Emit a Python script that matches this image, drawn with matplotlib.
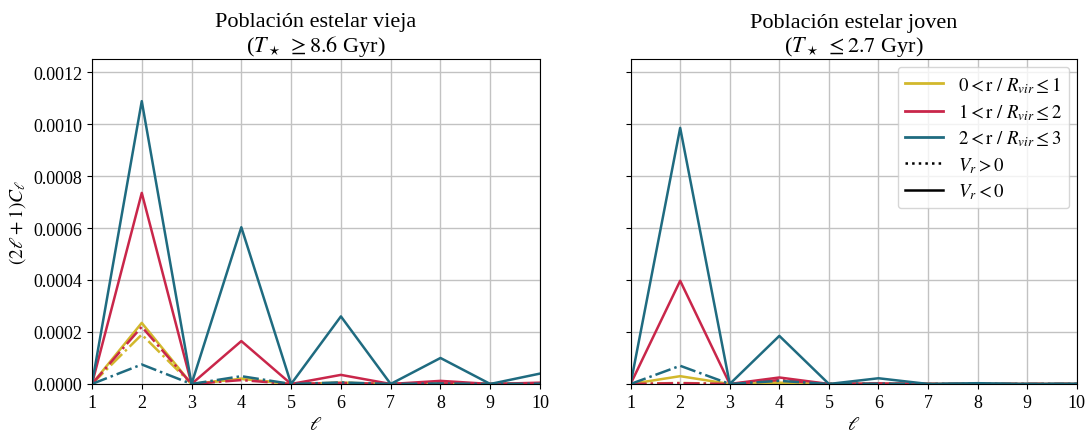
import matplotlib
import numpy as np

matplotlib.use("Agg")
import matplotlib.pyplot as plt  # noqa: E402

ell = np.arange(1, 11)

# old population (left panel)
old_in_neg = [0, 2.35e-4, 0, 2.0e-5, 0, 5e-6, 0, 2e-6, 0, 1e-6]
old_mid_neg = [0, 7.35e-4, 0, 1.65e-4, 0, 3.5e-5, 0, 1.2e-5, 0, 5e-6]
old_out_neg = [0, 1.088e-3, 0, 6.03e-4, 0, 2.6e-4, 0, 1.0e-4, 0, 4.0e-5]
old_in_pos = [0, 1.9e-4, 0, 2.0e-5, 0, 4e-6, 0, 2e-6, 0, 1e-6]
old_mid_pos = [0, 2.2e-4, 0, 1.5e-5, 0, 4e-6, 0, 2e-6, 0, 1e-6]
old_out_pos = [0, 7.5e-5, 0, 3.0e-5, 0, 6e-6, 0, 2e-6, 0, 1e-6]

# young population (right panel)
young_in_neg = [0, 3.0e-5, 0, 5e-6, 0, 1e-6, 0, 0, 0, 0]
young_mid_neg = [0, 3.97e-4, 0, 2.5e-5, 0, 2e-6, 0, 0, 0, 0]
young_out_neg = [0, 9.85e-4, 0, 1.85e-4, 0, 2.2e-5, 0, 3e-6, 0, 1e-6]
young_in_pos = [0, 4e-6, 0, 8e-6, 0, 1e-6, 0, 0, 0, 0]
young_mid_pos = [0, 3e-6, 0, 1.5e-5, 0, 1e-6, 0, 0, 0, 0]
young_out_pos = [0, 7.0e-5, 0, 1.2e-5, 0, 1e-6, 0, 0, 0, 0]

colors = ["#d2b82c", "#c9264a", "#1f6b80"]
bin_labels = [
    r"$0 < \mathrm{r}\ /\ R_{vir} \leq 1$",
    r"$1 < \mathrm{r}\ /\ R_{vir} \leq 2$",
    r"$2 < \mathrm{r}\ /\ R_{vir} \leq 3$",
]
titles = [
    "Población estelar vieja\n" + r"($T_\star\ \geq 8.6$ Gyr)",
    "Población estelar joven\n" + r"($T_\star\ \leq 2.7$ Gyr)",
]

plt.rcParams["font.family"] = ["Liberation Serif", "DejaVu Serif"]
plt.rcParams["mathtext.fontset"] = "stix"

fig = plt.figure(figsize=(10.91, 4.35), dpi=100)
ax1 = fig.add_axes([0.0843, 0.115, 0.4107, 0.747])
ax2 = fig.add_axes([0.578, 0.115, 0.409, 0.747], sharey=ax1)

panels = [
    (ax1, [old_in_neg, old_mid_neg, old_out_neg], [old_in_pos, old_mid_pos, old_out_pos]),
    (ax2, [young_in_neg, young_mid_neg, young_out_neg], [young_in_pos, young_mid_pos, young_out_pos]),
]

for (ax, neg, pos), title in zip(panels, titles):
    for c, yneg, ypos in zip(colors, neg, pos):
        ax.plot(ell, ypos, color=c, ls="-.", lw=1.8)
        ax.plot(ell, yneg, color=c, ls="-", lw=1.8)
    ax.set_xlim(1, 10)
    ax.set_ylim(0, 0.00125)
    ax.set_xticks(ell)
    ax.set_yticks(np.arange(0, 0.00121, 0.0002))
    ax.grid(True, color="#c2c2c2", lw=1.0)
    ax.set_axisbelow(True)
    ax.set_xlabel(r"$\ell$", fontsize=14)
    ax.set_title(title, fontsize=16, linespacing=1.1)
    ax.tick_params(labelsize=13)

ax1.yaxis.set_major_formatter(matplotlib.ticker.FormatStrFormatter("%.4f"))
ax1.set_ylabel(r"$(2\ell + 1)C_\ell$", fontsize=14)
ax2.tick_params(labelleft=False)

handles = [plt.Line2D([0], [0], color=c, lw=2, label=lab) for c, lab in zip(colors, bin_labels)]
handles += [
    plt.Line2D([0], [0], color="black", lw=1.8, ls=":", label=r"$V_r > 0$"),
    plt.Line2D([0], [0], color="black", lw=1.8, ls="-", label=r"$V_r < 0$"),
]
ax2.legend(handles=handles, loc="upper right", fontsize=13.5, handlelength=2.0,
           labelspacing=0.35, borderaxespad=0.4)

fig.savefig("out.png", dpi=100)
plt.close(fig)
